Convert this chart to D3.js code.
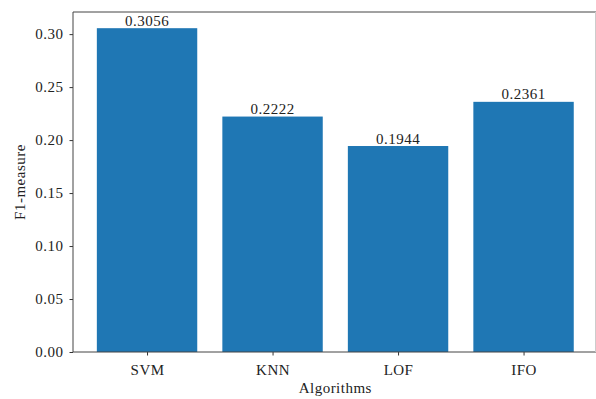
<!DOCTYPE html>
<html>
<head>
<meta charset="utf-8">
<script src="https://cdn.jsdelivr.net/npm/d3@7"></script>
<style>
  html, body { margin: 0; padding: 0; background: #fff; }
  svg text { font-family: "Liberation Serif", "DejaVu Serif", serif; fill: #222; letter-spacing: 0.5px; }
</style>
</head>
<body>
<svg id="chart" width="596" height="399"></svg>
<script>
// F1-measure per anomaly-detection algorithm
const algorithms = ["SVM", "KNN", "LOF", "IFO"];
const f1Scores = [0.3056, 0.2222, 0.1944, 0.2361];
const yTicks = [0.00, 0.05, 0.10, 0.15, 0.20, 0.25, 0.30];

const svg = d3.select("#chart");
const plotLeft = 73, plotRight = 597.6, plotTop = 12, plotBottom = 352;
const fontSize = 15;

// Bars are 0.8 wide around integer positions, with a 5% margin on each side
const x = d3.scaleLinear().domain([-0.59, 3.59]).range([plotLeft, plotRight]);
const yMax = d3.max(f1Scores) * 1.05;
const y = d3.scaleLinear().domain([0, yMax]).range([plotBottom, plotTop]);

const barColor = "#1f77b4";
const bw = 0.8;

svg.append("g").selectAll("rect")
  .data(f1Scores)
  .join("rect")
  .attr("x", (d, i) => x(i - bw / 2))
  .attr("width", (d, i) => x(i + bw / 2) - x(i - bw / 2))
  .attr("y", d => y(d))
  .attr("height", d => y(0) - y(d))
  .attr("fill", barColor);

// Value labels above each bar
svg.append("g").selectAll("text")
  .data(f1Scores)
  .join("text")
  .attr("x", (d, i) => x(i))
  .attr("y", d => y(d) - 2.5)
  .attr("text-anchor", "middle")
  .attr("font-size", fontSize)
  .text(d => d.toFixed(4));

// Axes
const xAxis = d3.axisBottom(x)
  .tickValues(d3.range(algorithms.length))
  .tickFormat(i => algorithms[i])
  .tickSize(3.5).tickPadding(5);
const yAxis = d3.axisLeft(y)
  .tickValues(yTicks)
  .tickFormat(d3.format(".2f"))
  .tickSize(3.5).tickPadding(6);

const gx = svg.append("g").attr("transform", `translate(0,${plotBottom})`).call(xAxis);
const gy = svg.append("g").attr("transform", `translate(${plotLeft},0)`).call(yAxis);
[gx, gy].forEach(g => {
  g.select(".domain").remove();
  g.selectAll(".tick line").attr("stroke", "#333").attr("stroke-width", 1);
  g.selectAll(".tick text").attr("font-size", fontSize)
    .attr("font-family", "'Liberation Serif', 'DejaVu Serif', serif").attr("fill", "#222");
});
gx.selectAll(".tick text").attr("y", 23).attr("dy", null);

// Frame
const frame = svg.append("g").attr("fill", "none").attr("stroke", "#444").attr("stroke-width", 1);
frame.append("line").attr("x1", plotLeft).attr("x2", plotLeft).attr("y1", plotTop).attr("y2", plotBottom);
frame.append("line").attr("x1", plotLeft).attr("x2", 596).attr("y1", plotBottom).attr("y2", plotBottom);
frame.append("line").attr("x1", plotLeft).attr("x2", 596).attr("y1", plotTop).attr("y2", plotTop);
svg.append("line").attr("x1", 595.5).attr("x2", 595.5).attr("y1", plotTop).attr("y2", plotBottom)
  .attr("stroke", "#ccc").attr("stroke-width", 1);

// Axis titles
svg.append("text")
  .attr("x", (plotLeft + plotRight) / 2).attr("y", 393)
  .attr("text-anchor", "middle").attr("font-size", fontSize)
  .text("Algorithms");
svg.append("text")
  .attr("transform", `translate(25,${(plotTop + plotBottom) / 2}) rotate(-90)`)
  .attr("text-anchor", "middle").attr("font-size", fontSize)
  .text("F1-measure");
</script>
</body>
</html>
